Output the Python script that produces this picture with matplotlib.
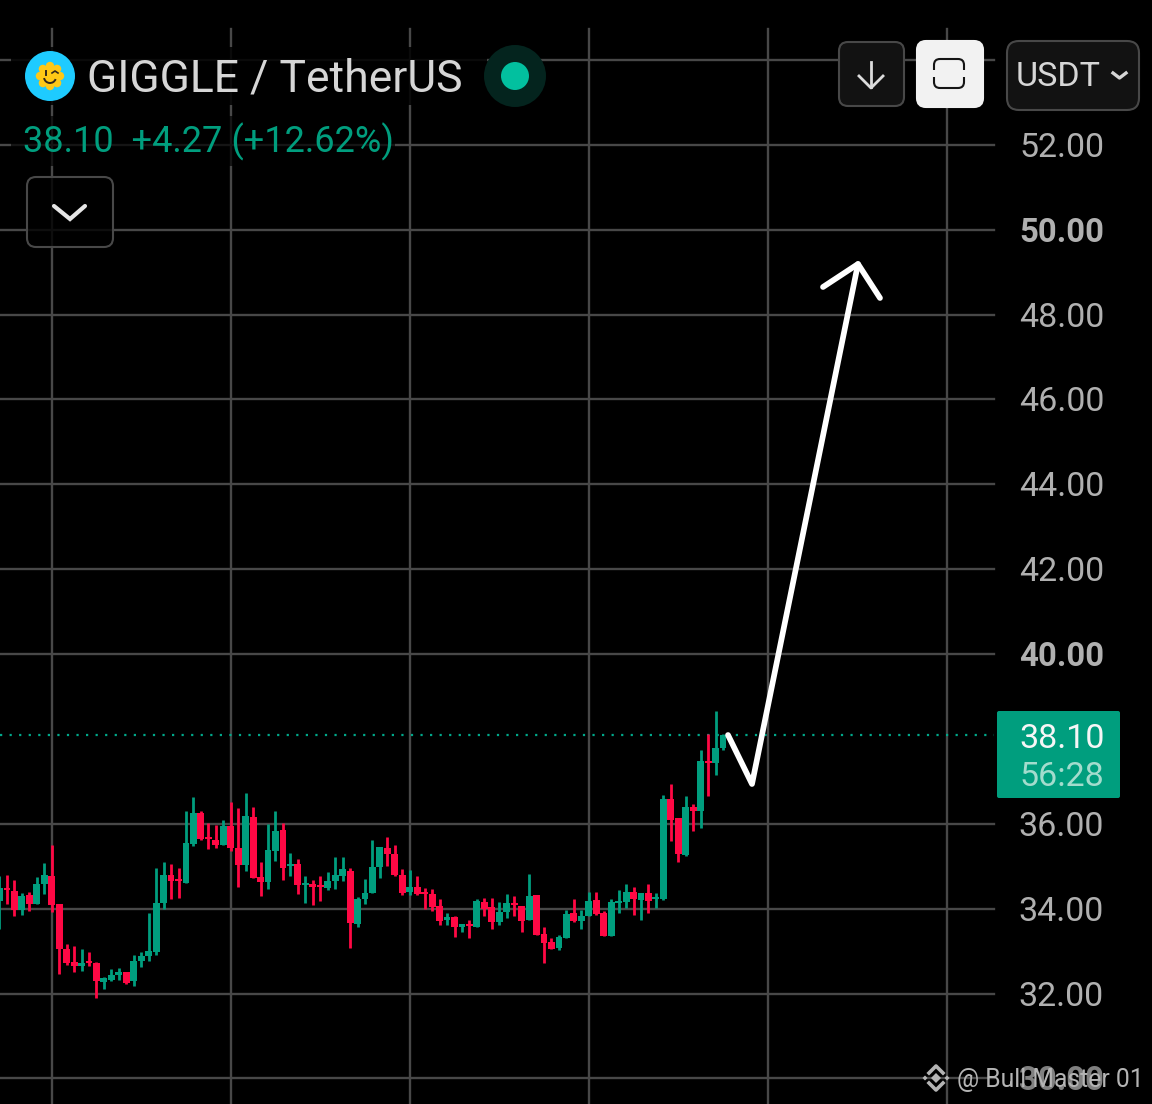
import matplotlib
matplotlib.use("Agg")
import matplotlib.pyplot as plt
import numpy as np
from matplotlib.patches import Circle, FancyBboxPatch, Rectangle, Polygon, Arc

plt.rcParams['font.family'] = ['Roboto', 'DejaVu Sans']

# candles, first index sits just off the left edge
first_index = -7
opens = [34.18, 34.49, 34.41, 33.97, 34.32, 34.10, 34.58, 34.77, 34.10, 33.06, 32.75, 32.64, 32.75, 32.73, 32.28, 32.32,
         32.43, 32.50, 32.29, 32.76, 32.89, 32.98, 34.14, 34.80, 34.68, 34.60, 35.53, 36.25, 35.67, 35.61, 35.50, 35.96,
         35.43, 35.02, 36.17, 34.74, 34.63, 35.37, 35.86, 35.01, 35.06, 34.55, 34.58, 34.54, 34.49, 34.65, 34.76, 34.88,
         33.64, 34.24, 34.36, 34.99, 35.42, 35.28, 34.80, 34.40, 34.51, 34.38, 34.35, 34.07, 33.74, 33.80, 33.58, 33.64,
         33.56, 34.15, 34.04, 33.69, 33.93, 34.12, 34.07, 33.74, 34.33, 33.41, 33.22, 33.08, 33.31, 33.90, 33.72, 33.83,
         34.21, 33.90, 33.36, 34.13, 34.15, 34.40, 34.21, 34.38, 34.22, 34.22, 36.58, 36.13, 35.26, 36.39, 36.30, 37.46,
         37.43, 37.78]
closes = [34.49, 34.44, 33.96, 34.30, 34.10, 34.58, 34.79, 34.08, 33.05, 32.73, 32.64, 32.73, 32.71, 32.29, 32.37, 32.45,
          32.50, 32.26, 32.78, 32.89, 33.00, 34.13, 34.80, 34.65, 34.65, 35.54, 36.25, 35.64, 35.64, 35.50, 35.96, 35.42,
          35.04, 36.19, 34.73, 34.63, 35.39, 35.84, 34.96, 35.06, 34.55, 34.60, 34.52, 34.51, 34.66, 34.79, 34.93, 33.66,
          34.24, 34.38, 34.99, 35.45, 35.28, 34.79, 34.38, 34.51, 34.35, 34.35, 34.03, 33.72, 33.80, 33.56, 33.63, 33.60,
          34.19, 34.00, 33.69, 33.93, 34.13, 34.08, 33.72, 34.30, 33.39, 33.20, 33.06, 33.33, 33.88, 33.72, 33.83, 34.19,
          33.88, 33.36, 34.15, 34.16, 34.40, 34.23, 34.38, 34.18, 34.26, 36.58, 36.08, 35.29, 36.39, 36.30, 37.48, 37.43,
          37.79, 38.10]
highs = [34.76, 34.80, 34.68, 34.37, 34.40, 34.74, 35.07, 35.49, 34.10, 33.17, 33.13, 33.06, 32.98, 32.75, 32.40, 32.59,
         32.61, 32.51, 32.90, 32.97, 33.91, 34.95, 35.09, 35.06, 34.96, 36.30, 36.64, 36.31, 36.03, 35.97, 36.09, 36.52,
         36.38, 36.72, 36.39, 35.09, 36.00, 36.31, 36.03, 35.32, 35.17, 34.77, 34.68, 34.76, 34.87, 35.23, 35.23, 34.95,
         34.27, 34.69, 35.62, 35.46, 35.70, 35.51, 34.93, 34.91, 34.77, 34.49, 34.47, 34.24, 33.91, 33.82, 33.64, 33.74,
         34.24, 34.25, 34.26, 34.16, 34.35, 34.29, 34.07, 34.81, 34.33, 33.58, 33.31, 33.39, 33.96, 34.24, 33.97, 34.40,
         34.40, 33.94, 34.24, 34.43, 34.59, 34.51, 34.38, 34.59, 34.38, 36.69, 36.94, 36.13, 36.66, 36.46, 37.73, 38.11,
         38.66, 38.12]
lows = [33.52, 34.10, 33.82, 33.85, 33.94, 34.10, 34.35, 33.92, 32.46, 32.68, 32.50, 32.54, 32.64, 31.90, 32.10, 32.29,
        32.31, 32.23, 32.17, 32.62, 32.76, 32.92, 33.99, 34.23, 34.25, 34.60, 35.48, 35.61, 35.40, 35.42, 35.50, 35.35,
        34.51, 34.90, 34.73, 34.30, 34.46, 35.12, 34.68, 34.76, 34.35, 34.13, 34.08, 34.18, 34.44, 34.46, 34.65, 33.08,
        33.58, 34.10, 34.36, 34.73, 35.01, 34.76, 34.32, 34.33, 34.32, 34.00, 33.94, 33.61, 33.61, 33.34, 33.44, 33.30,
        33.56, 33.82, 33.53, 33.61, 33.77, 33.83, 33.44, 33.74, 33.38, 32.72, 33.05, 33.03, 33.30, 33.68, 33.53, 33.82,
        33.86, 33.36, 33.36, 33.90, 34.01, 33.86, 33.74, 33.90, 34.01, 34.21, 35.59, 35.11, 35.25, 35.83, 35.91, 36.65,
        37.15, 37.73]

y_ticks = [30, 32, 34, 36, 38, 40, 42, 44, 46, 48, 50, 52, 54]
y_labels = [30, 32, 34, 36, 40, 42, 44, 46, 48, 50, 52]
bold_labels = [30, 40, 50]
v_grid = [0, 24, 48, 72, 96, 120]
last_price = 38.10
countdown = "56:28"

GREEN = '#009e7e'
RED = '#ff0844'
GRID = '#484848'
LABEL = '#b0b0b0'

W, H = 1152, 1104
fig = plt.figure(figsize=(W / 100, H / 100), dpi=100, facecolor='black')

# chart axes, scaled so the price and time grid land on the right pixels
ax = fig.add_axes([0, 0, 1, 1], facecolor='black')
ax.set_xlim(-6.93, 147.5)
ax.set_ylim(29.399, 55.412)
ax.axis('off')

grid_right = 994 / W
for v in y_ticks:
    if v != 38:
        ax.axhline(v, xmin=0, xmax=grid_right, color=GRID, lw=1.7, zorder=1)
for i in v_grid:
    ax.axvline(i, ymin=0, ymax=1 - 29 / H, color=GRID, lw=1.7, zorder=1)

xs = [first_index + n for n in range(len(opens))]
colors = [GREEN if c >= o else RED for o, c in zip(opens, closes)]
ax.vlines(xs, lows, highs, colors=colors, lw=2.0, zorder=3)
ax.bar(xs, [max(abs(c - o), 0.05) for o, c in zip(opens, closes)], bottom=[min(o, c) for o, c in zip(opens, closes)],
       width=0.92, color=colors, lw=0, zorder=4)

ax.axhline(last_price, xmin=0, xmax=grid_right, color='#00a88a', lw=1.6, ls=(0, (1, 3.3)), zorder=2)

for v in y_labels:
    b = v in bold_labels
    ax.annotate(f"{v:.2f}", xy=(1104 / W, v + 0.012), xycoords=('figure fraction', 'data'), ha='right', va='center_baseline',
                fontsize=23.8 if b else 24.5, color='#808080' if v == 30 else LABEL,
                fontweight='bold' if b else 'normal', zorder=6)

# overlay in pixel coordinates for the app chrome and the hand drawn arrow
ui = fig.add_axes([0, 0, 1, 1], facecolor='none')
ui.set_xlim(0, W)
ui.set_ylim(H, 0)
ui.axis('off')


def button(x0, y0, x1, y1, face, edge, r=9):
    ui.add_patch(FancyBboxPatch((x0 + r, y0 + r), x1 - x0 - 2 * r, y1 - y0 - 2 * r, boxstyle=f"round,pad={r},rounding_size={r}",
                                fc=face, ec=edge, lw=1.5, zorder=5))


# dark see-through backing behind the header text
ui.add_patch(Rectangle((11, 47), 476, 58, fc='black', ec='none', alpha=0.85, zorder=2))
ui.add_patch(Rectangle((11, 116), 384, 50, fc='black', ec='none', alpha=0.7, zorder=2))

# logo
ui.add_patch(Circle((50, 76), 25, fc='#1ecbff', ec='none', zorder=5))
ui.add_patch(Circle((50, 76), 11, fc='#ffc815', ec='none', zorder=6))
for a in np.arange(8) * np.pi / 4:
    ui.add_patch(Circle((50 + 10 * np.cos(a), 76 + 10 * np.sin(a)), 4.2, fc='#ffc815', ec='none', zorder=6))
ui.add_patch(Arc((50, 77), 12, 12, theta1=20, theta2=170, color='#33291a', lw=1.4, zorder=7))
ui.plot([46, 46], [71, 75], color='#33291a', lw=1.4, zorder=7)
ui.plot([52, 55, 58], [73, 71, 73], color='#33291a', lw=1.2, zorder=7)

ui.text(87, 75, "GIGGLE / TetherUS", fontsize=32, color='#d6d6d6', va='center_baseline', ha='left', zorder=6)

# live dot
ui.add_patch(Circle((515, 76), 31, fc='#04241e', ec='none', zorder=3))
ui.add_patch(Circle((515, 76), 14, fc='#02c09f', ec='none', zorder=6))

ui.text(23, 138, "38.10  +4.27 (+12.62%)", fontsize=26, color=GREEN, va='center_baseline', ha='left', zorder=6)

# collapse button
button(27, 177, 113, 247, (0, 0, 0, 0.8), '#484848')
ui.plot([54, 70, 85], [206, 219, 206], color='#e6e6e6', lw=3, solid_capstyle='round', solid_joinstyle='miter', zorder=7)

# top right buttons
button(839, 42, 904, 106, '#121212', '#484848')
ui.plot([871, 871], [62, 87], color='#dcdcdc', lw=2, zorder=7)
ui.plot([859, 871, 883], [76, 88, 76], color='#dcdcdc', lw=2, zorder=7)

button(917, 41, 983, 107, '#f2f2f2', '#f2f2f2')
button(934, 59, 964, 88, 'none', '#151515', r=6)
ui.add_patch(Rectangle((930, 70), 38, 7, fc='#f2f2f2', ec='none', zorder=6))

button(1007, 41, 1139, 110, '#121212', '#484848', r=12)
ui.text(1016, 74, "USDT", fontsize=24.5, color='#d6d6d6', va='center_baseline', ha='left', zorder=7)
ui.plot([1113, 1119.5, 1126], [73, 78, 73], color='#d6d6d6', lw=2.4, zorder=7)

# price tag
ui.add_patch(FancyBboxPatch((999, 713), 119, 83, boxstyle="round,pad=2,rounding_size=2", fc='#009e7e', ec='none', zorder=5))
ui.text(1062, 735, f"{last_price:.2f}", fontsize=24.5, color='#f6f6f6', va='center_baseline', ha='center', zorder=7)
ui.text(1062, 774, countdown, fontsize=24.5, color='#a3dccd', va='center_baseline', ha='center', zorder=7)

# hand drawn arrow
ui.plot([728, 752, 858], [735, 784, 264], color='white', lw=4.1, solid_capstyle='round', solid_joinstyle='round', zorder=8)
ui.plot([823, 858, 880], [287, 264, 298], color='white', lw=4.1, solid_capstyle='round', solid_joinstyle='round', zorder=8)

# watermark
wm = '#b4b4b4'
ui.plot([929, 936, 943], [1073, 1066, 1073], color=wm, lw=2.6, zorder=9)
ui.plot([929, 936, 943], [1083, 1090, 1083], color=wm, lw=2.6, zorder=9)
for cx, cy, s in [(936, 1078, 5), (925, 1078, 2.5), (947, 1078, 2.5)]:
    ui.add_patch(Polygon([(cx - s, cy), (cx, cy - s), (cx + s, cy), (cx, cy + s)], fc=wm, ec='none', zorder=9))
ui.text(957, 1078, "@ Bull Master 01", fontsize=17.8, color=wm, va='center_baseline', ha='left', zorder=9)

fig.savefig('out.png', dpi=100, facecolor='black')
